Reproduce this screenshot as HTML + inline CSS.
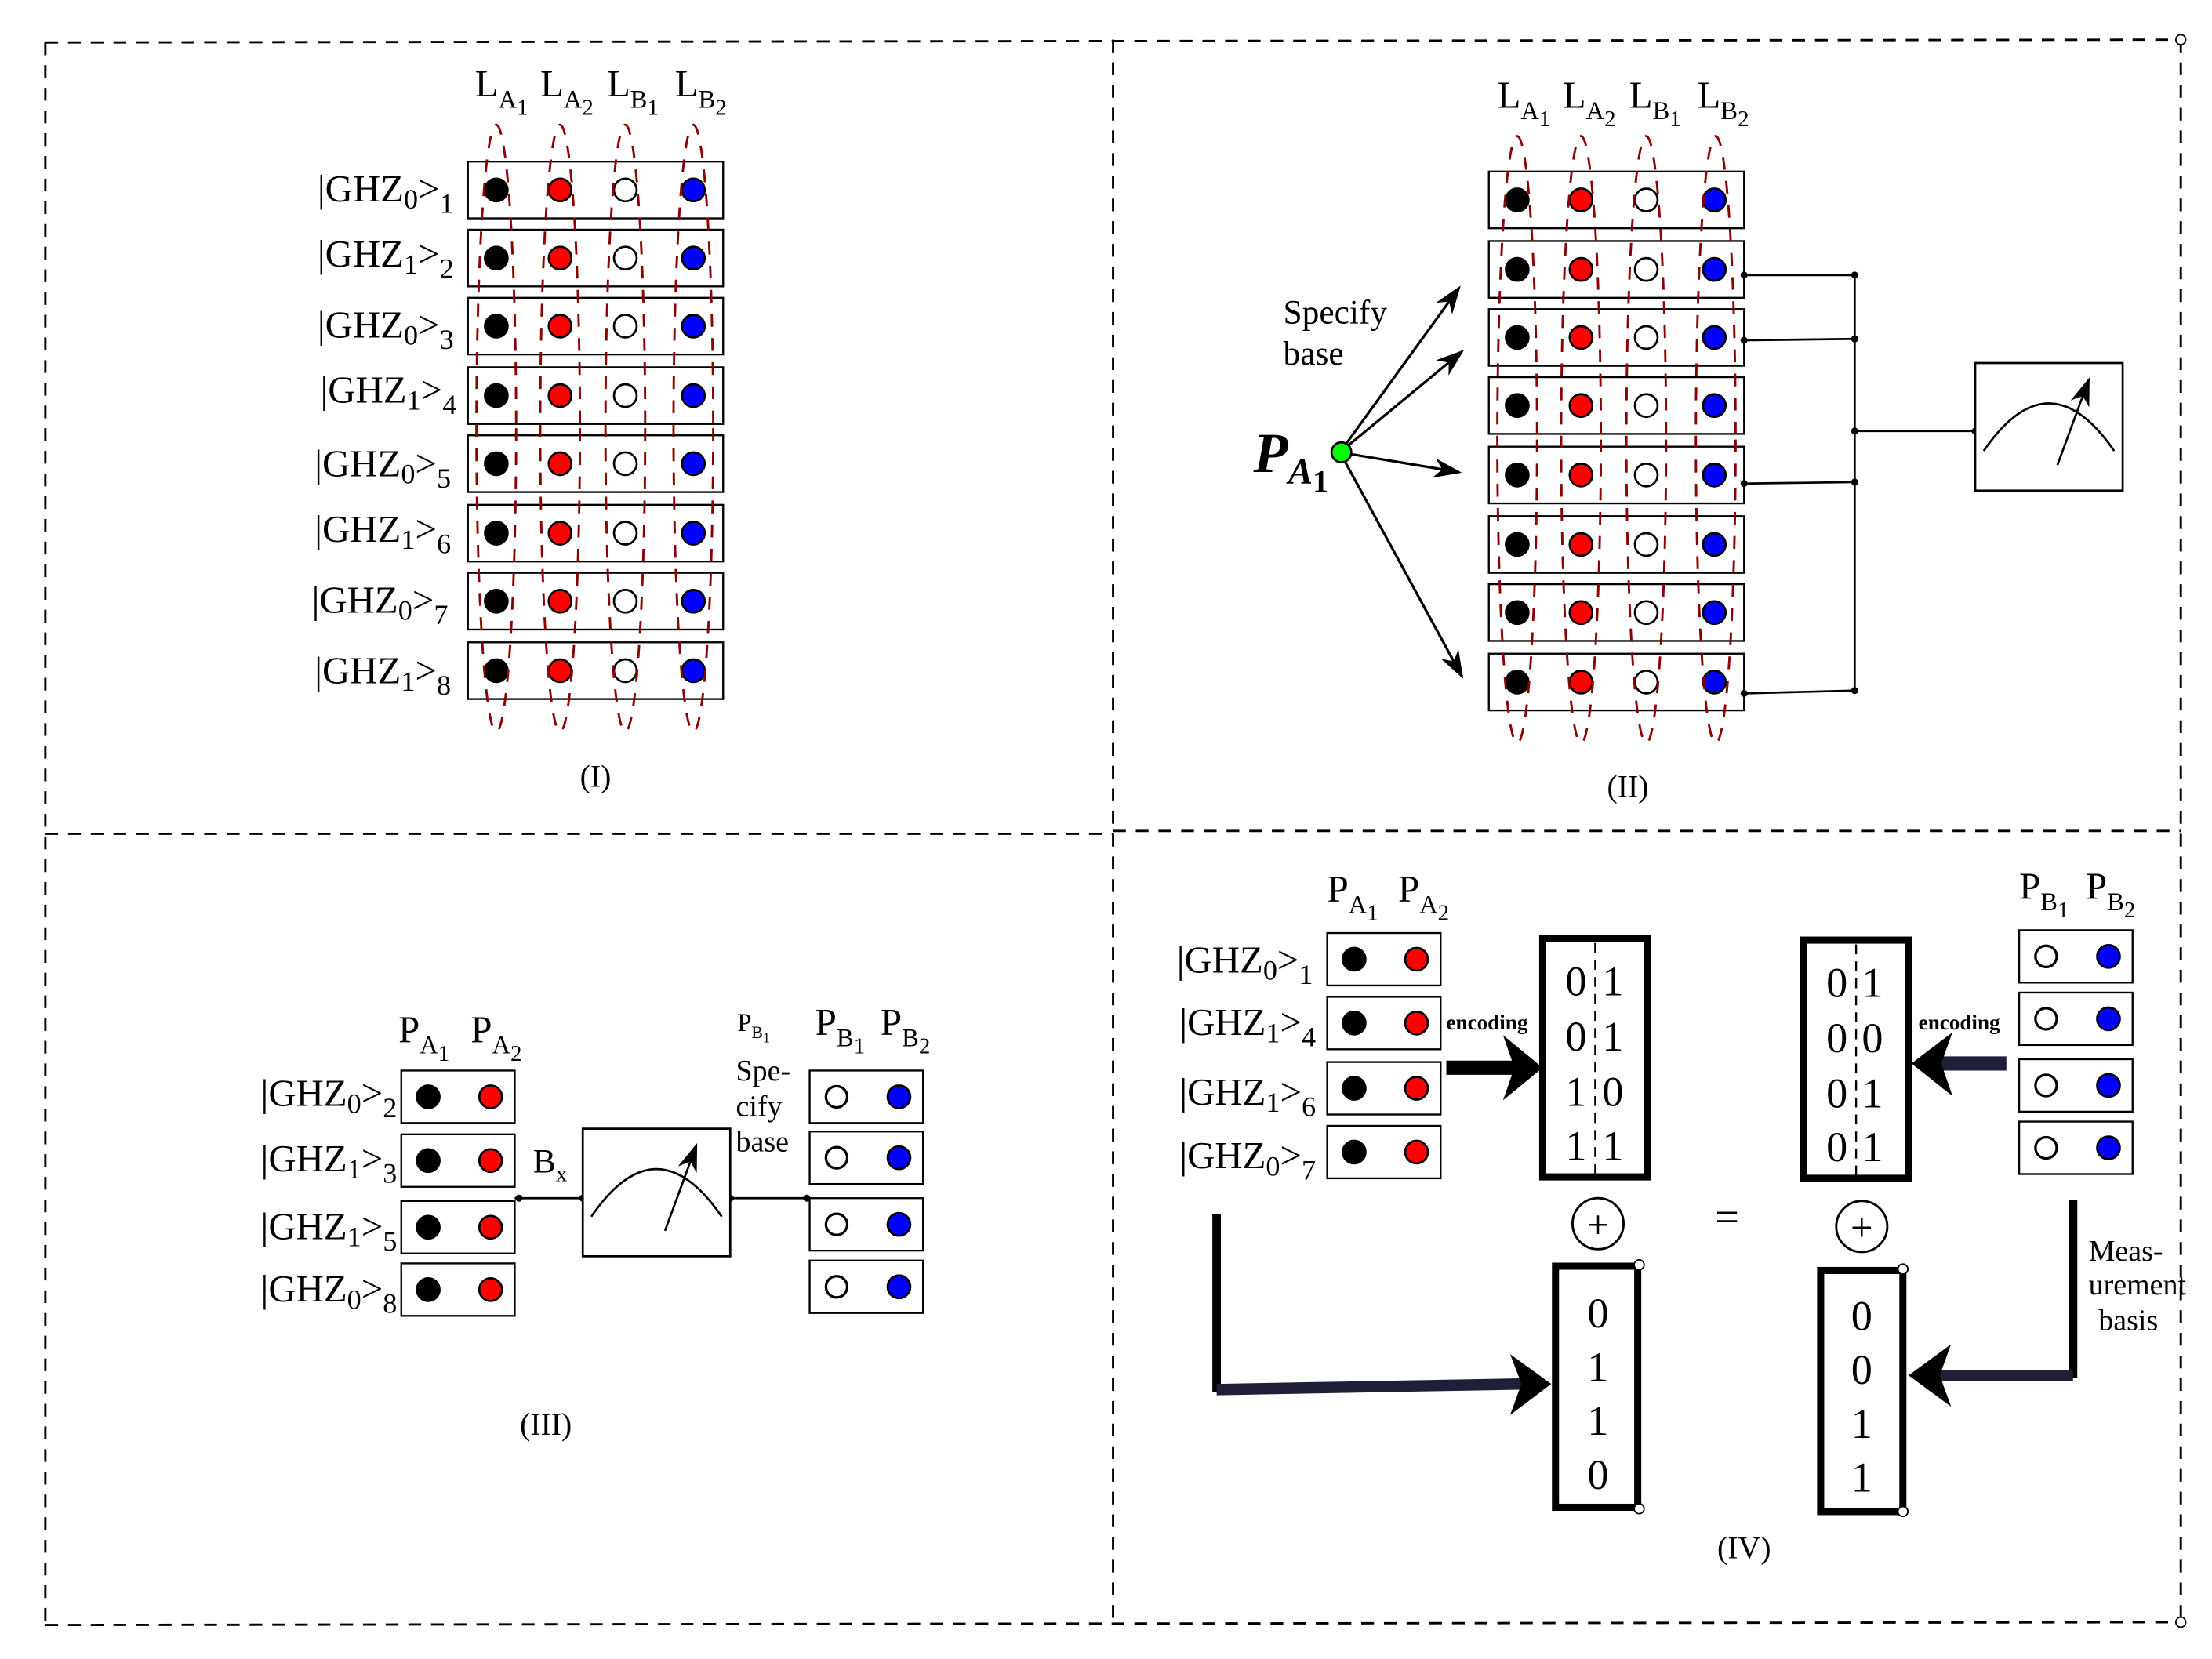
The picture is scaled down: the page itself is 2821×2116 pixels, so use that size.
<!DOCTYPE html>
<html><head><meta charset="utf-8"><style>html,body{margin:0;padding:0;background:#fff}svg{display:block}</style></head>
<body>
<svg width="2821" height="2116" viewBox="0 0 1560 1170" preserveAspectRatio="none" xmlns="http://www.w3.org/2000/svg" font-family="Liberation Serif, serif">
<defs>
<marker id="ah" viewBox="0 0 20 14" refX="18" refY="7" markerWidth="20" markerHeight="14" markerUnits="userSpaceOnUse" orient="auto"><path d="M0,0 L20,7 L0,14 L6,7 Z" fill="#000"/></marker>
<g id="r4"><rect x="0" y="0" width="180" height="40" fill="#fff" stroke="#000" stroke-width="1.3"/>
<circle cx="20" cy="20" r="8" fill="#000" stroke="#000" stroke-width="1.5"/>
<circle cx="65" cy="20" r="8" fill="#f00" stroke="#000" stroke-width="1.5"/>
<circle cx="111" cy="20" r="8" fill="#fff" stroke="#000" stroke-width="1.5"/>
<circle cx="159" cy="20" r="8" fill="#00f" stroke="#000" stroke-width="1.5"/></g>
<g id="ra"><rect x="0" y="0" width="80" height="37" fill="#fff" stroke="#000" stroke-width="1.3"/>
<circle cx="19" cy="18.5" r="8" fill="#000" stroke="#000" stroke-width="1.5"/>
<circle cx="63" cy="18.5" r="8" fill="#f00" stroke="#000" stroke-width="1.5"/></g>
<g id="rb"><rect x="0" y="0" width="80" height="37" fill="#fff" stroke="#000" stroke-width="1.3"/>
<circle cx="19" cy="18.5" r="7.5" fill="#fff" stroke="#000" stroke-width="1.8"/>
<circle cx="63" cy="18.5" r="8" fill="#00f" stroke="#000" stroke-width="1.5"/></g>
<g id="meter"><rect x="0" y="0" width="104" height="90" fill="#fff" stroke="#000" stroke-width="1.5"/>
<path d="M6,62 Q52,-5 98,62" fill="none" stroke="#000" stroke-width="1.5"/>
<line x1="58" y1="72" x2="80" y2="12" stroke="#000" stroke-width="1.5" marker-end="url(#ah)"/></g>
</defs>

<!-- dashed frame -->
<g fill="none" stroke="#000" stroke-width="1.6" stroke-dasharray="9,7">
<line x1="32" y1="30" x2="1538" y2="28"/>
<line x1="32" y1="30" x2="32" y2="1146"/>
<line x1="32" y1="1146" x2="1538" y2="1144"/>
<line x1="1538" y1="28" x2="1538" y2="1144"/>
<line x1="785" y1="28" x2="785" y2="1146"/>
<line x1="32" y1="588" x2="785" y2="588"/>
<line x1="785" y1="586" x2="1538" y2="586"/>
</g>
<circle cx="1538" cy="28" r="3.5" fill="#fff" stroke="#000"/>
<circle cx="1538" cy="1144" r="3.5" fill="#fff" stroke="#000"/>

<!-- Panel I -->
<g font-size="27">
<text x="335" y="68">L<tspan font-size="18" dy="8">A</tspan><tspan font-size="16" dy="5">1</tspan></text>
<text x="381" y="68">L<tspan font-size="18" dy="8">A</tspan><tspan font-size="16" dy="5">2</tspan></text>
<text x="428" y="68">L<tspan font-size="18" dy="8">B</tspan><tspan font-size="16" dy="5">1</tspan></text>
<text x="476" y="68">L<tspan font-size="18" dy="8">B</tspan><tspan font-size="16" dy="5">2</tspan></text>
</g>
<use href="#r4" x="330" y="114"/><use href="#r4" x="330" y="162"/><use href="#r4" x="330" y="210"/><use href="#r4" x="330" y="259"/>
<use href="#r4" x="330" y="307"/><use href="#r4" x="330" y="356"/><use href="#r4" x="330" y="404"/><use href="#r4" x="330" y="453"/>
<g fill="none" stroke="#8b0000" stroke-width="1.6" stroke-dasharray="9,8">
<ellipse cx="350" cy="302" rx="14" ry="214"/><ellipse cx="395" cy="302" rx="14" ry="214"/>
<ellipse cx="441" cy="302" rx="14" ry="214"/><ellipse cx="489" cy="302" rx="14" ry="214"/>
</g>
<g font-size="27" text-anchor="end">
<text x="320" y="142">|GHZ<tspan font-size="20" dy="5">0</tspan><tspan dy="-5">&gt;</tspan><tspan font-size="20" dy="8">1</tspan></text>
<text x="320" y="188">|GHZ<tspan font-size="20" dy="5">1</tspan><tspan dy="-5">&gt;</tspan><tspan font-size="20" dy="8">2</tspan></text>
<text x="320" y="238">|GHZ<tspan font-size="20" dy="5">0</tspan><tspan dy="-5">&gt;</tspan><tspan font-size="20" dy="8">3</tspan></text>
<text x="322" y="284">|GHZ<tspan font-size="20" dy="5">1</tspan><tspan dy="-5">&gt;</tspan><tspan font-size="20" dy="8">4</tspan></text>
<text x="318" y="336">|GHZ<tspan font-size="20" dy="5">0</tspan><tspan dy="-5">&gt;</tspan><tspan font-size="20" dy="8">5</tspan></text>
<text x="318" y="382">|GHZ<tspan font-size="20" dy="5">1</tspan><tspan dy="-5">&gt;</tspan><tspan font-size="20" dy="8">6</tspan></text>
<text x="316" y="432">|GHZ<tspan font-size="20" dy="5">0</tspan><tspan dy="-5">&gt;</tspan><tspan font-size="20" dy="8">7</tspan></text>
<text x="318" y="482">|GHZ<tspan font-size="20" dy="5">1</tspan><tspan dy="-5">&gt;</tspan><tspan font-size="20" dy="8">8</tspan></text>
</g>
<text x="420" y="555" font-size="22" text-anchor="middle">(I)</text>

<!-- Panel II -->
<g font-size="27">
<text x="1056" y="76">L<tspan font-size="18" dy="8">A</tspan><tspan font-size="16" dy="5">1</tspan></text>
<text x="1102" y="76">L<tspan font-size="18" dy="8">A</tspan><tspan font-size="16" dy="5">2</tspan></text>
<text x="1149" y="76">L<tspan font-size="18" dy="8">B</tspan><tspan font-size="16" dy="5">1</tspan></text>
<text x="1197" y="76">L<tspan font-size="18" dy="8">B</tspan><tspan font-size="16" dy="5">2</tspan></text>
</g>
<use href="#r4" x="1050" y="121"/><use href="#r4" x="1050" y="170"/><use href="#r4" x="1050" y="218"/><use href="#r4" x="1050" y="266"/>
<use href="#r4" x="1050" y="315"/><use href="#r4" x="1050" y="364"/><use href="#r4" x="1050" y="412"/><use href="#r4" x="1050" y="461"/>
<g fill="none" stroke="#8b0000" stroke-width="1.6" stroke-dasharray="9,8">
<ellipse cx="1070" cy="310" rx="14" ry="214"/><ellipse cx="1115" cy="310" rx="14" ry="214"/>
<ellipse cx="1161" cy="310" rx="14" ry="214"/><ellipse cx="1210" cy="310" rx="14" ry="214"/>
</g>
<g stroke="#000" stroke-width="1.5" fill="none">
<polyline points="1230,194 1308,194 1308,487 1230,489"/>
<line x1="1230" y1="240" x2="1308" y2="239"/>
<line x1="1230" y1="341" x2="1308" y2="340"/>
<line x1="1308" y1="304" x2="1393" y2="304"/>
</g>
<g fill="#000"><circle cx="1230" cy="194" r="2.5"/><circle cx="1308" cy="194" r="2.5"/><circle cx="1230" cy="240" r="2.5"/><circle cx="1308" cy="239" r="2.5"/><circle cx="1230" cy="341" r="2.5"/><circle cx="1308" cy="340" r="2.5"/><circle cx="1230" cy="489" r="2.5"/><circle cx="1308" cy="487" r="2.5"/><circle cx="1308" cy="304" r="2.5"/><circle cx="1393" cy="304" r="2.5"/></g>
<use href="#meter" x="1393" y="256"/>
<g stroke="#000" stroke-width="1.8" marker-end="url(#ah)">
<line x1="945" y1="319" x2="1029" y2="203"/>
<line x1="945" y1="319" x2="1031" y2="248"/>
<line x1="945" y1="319" x2="1029" y2="333"/>
<line x1="945" y1="319" x2="1031" y2="477"/>
</g>
<circle cx="946" cy="319" r="7" fill="#0f0" stroke="#000" stroke-width="1.5"/>
<text x="905" y="228" font-size="24">Specify</text>
<text x="905" y="257" font-size="24">base</text>
<text x="884" y="333" font-size="40" font-weight="bold" font-style="italic">P<tspan font-size="26" dy="8">A</tspan><tspan font-size="22" dy="6" font-style="normal">1</tspan></text>
<text x="1148" y="562" font-size="22" text-anchor="middle">(II)</text>

<!-- Panel III -->
<g font-size="27">
<text x="281" y="735">P<tspan font-size="18" dy="8">A</tspan><tspan font-size="16" dy="5">1</tspan></text>
<text x="332" y="735">P<tspan font-size="18" dy="8">A</tspan><tspan font-size="16" dy="5">2</tspan></text>
<text x="575" y="730">P<tspan font-size="18" dy="8">B</tspan><tspan font-size="16" dy="5">1</tspan></text>
<text x="621" y="730">P<tspan font-size="18" dy="8">B</tspan><tspan font-size="16" dy="5">2</tspan></text>
</g>
<use href="#ra" x="283" y="755"/><use href="#ra" x="283" y="800"/><use href="#ra" x="283" y="847"/><use href="#ra" x="283" y="891"/>
<use href="#rb" x="571" y="755"/><use href="#rb" x="571" y="798"/><use href="#rb" x="571" y="845"/><use href="#rb" x="571" y="889"/>
<g font-size="27" text-anchor="end">
<text x="280" y="780">|GHZ<tspan font-size="20" dy="5">0</tspan><tspan dy="-5">&gt;</tspan><tspan font-size="20" dy="8">2</tspan></text>
<text x="280" y="826">|GHZ<tspan font-size="20" dy="5">1</tspan><tspan dy="-5">&gt;</tspan><tspan font-size="20" dy="8">3</tspan></text>
<text x="280" y="874">|GHZ<tspan font-size="20" dy="5">1</tspan><tspan dy="-5">&gt;</tspan><tspan font-size="20" dy="8">5</tspan></text>
<text x="280" y="918">|GHZ<tspan font-size="20" dy="5">0</tspan><tspan dy="-5">&gt;</tspan><tspan font-size="20" dy="8">8</tspan></text>
</g>
<g stroke="#000" stroke-width="1.5"><line x1="363" y1="845" x2="411" y2="845"/><line x1="515" y1="845" x2="571" y2="845"/></g>
<g fill="#000"><circle cx="366" cy="845" r="2.5"/><circle cx="411" cy="845" r="2.5"/><circle cx="515" cy="845" r="2.5"/><circle cx="569" cy="845" r="2.5"/></g>
<use href="#meter" x="411" y="796"/>
<text x="376" y="827" font-size="24">B<tspan font-size="16" dy="6">x</tspan></text>
<text x="520" y="727" font-size="18">P<tspan font-size="12" dy="5">B</tspan><tspan font-size="10" dy="3">1</tspan></text>
<text x="519" y="762" font-size="21">Spe-</text>
<text x="519" y="787" font-size="21">cify</text>
<text x="519" y="812" font-size="21">base</text>
<text x="385" y="1012" font-size="22" text-anchor="middle">(III)</text>

<!-- Panel IV -->
<g font-size="27">
<text x="936" y="636">P<tspan font-size="18" dy="8">A</tspan><tspan font-size="16" dy="5">1</tspan></text>
<text x="986" y="636">P<tspan font-size="18" dy="8">A</tspan><tspan font-size="16" dy="5">2</tspan></text>
<text x="1424" y="634">P<tspan font-size="18" dy="8">B</tspan><tspan font-size="16" dy="5">1</tspan></text>
<text x="1471" y="634">P<tspan font-size="18" dy="8">B</tspan><tspan font-size="16" dy="5">2</tspan></text>
</g>
<use href="#ra" x="936" y="658"/><use href="#ra" x="936" y="703"/><use href="#ra" x="936" y="749"/><use href="#ra" x="936" y="794"/>
<use href="#rb" x="1424" y="656"/><use href="#rb" x="1424" y="700"/><use href="#rb" x="1424" y="747"/><use href="#rb" x="1424" y="791"/>
<g font-size="27" text-anchor="end">
<text x="926" y="686">|GHZ<tspan font-size="20" dy="5">0</tspan><tspan dy="-5">&gt;</tspan><tspan font-size="20" dy="8">1</tspan></text>
<text x="928" y="730">|GHZ<tspan font-size="20" dy="5">1</tspan><tspan dy="-5">&gt;</tspan><tspan font-size="20" dy="8">4</tspan></text>
<text x="928" y="779">|GHZ<tspan font-size="20" dy="5">1</tspan><tspan dy="-5">&gt;</tspan><tspan font-size="20" dy="8">6</tspan></text>
<text x="928" y="824">|GHZ<tspan font-size="20" dy="5">0</tspan><tspan dy="-5">&gt;</tspan><tspan font-size="20" dy="8">7</tspan></text>
</g>
<!-- matrices -->
<rect x="1088" y="662" width="74" height="168" fill="#fff" stroke="#000" stroke-width="5"/>
<rect x="1272" y="663" width="74" height="168" fill="#fff" stroke="#000" stroke-width="5"/>
<g stroke="#000" stroke-width="1.3" stroke-dasharray="7,5"><line x1="1125" y1="665" x2="1125" y2="828"/><line x1="1309" y1="666" x2="1309" y2="829"/></g>
<g font-size="30">
<text x="1104" y="702">0</text><text x="1130" y="702">1</text>
<text x="1104" y="741">0</text><text x="1130" y="741">1</text>
<text x="1104" y="780">1</text><text x="1130" y="780">0</text>
<text x="1104" y="818">1</text><text x="1130" y="818">1</text>
<text x="1288" y="703">0</text><text x="1313" y="703">1</text>
<text x="1288" y="742">0</text><text x="1313" y="742">0</text>
<text x="1288" y="781">0</text><text x="1313" y="781">1</text>
<text x="1288" y="819">0</text><text x="1313" y="819">1</text>
</g>
<g font-size="15" font-weight="bold"><text x="1020" y="726">encoding</text><text x="1353" y="726">encoding</text></g>
<!-- thick arrows -->
<line x1="1020" y1="753" x2="1070" y2="753" stroke="#000" stroke-width="10"/>
<path d="M1088,753 L1060,730 L1068,753 L1060,776 Z" fill="#000"/>
<line x1="1415" y1="750" x2="1365" y2="750" stroke="#1f1f3a" stroke-width="10"/>
<path d="M1348,750 L1377,728 L1369,750 L1377,773 Z" fill="#000"/>
<circle cx="1127" cy="863" r="18" fill="#fff" stroke="#000" stroke-width="1.6"/>
<text x="1127" y="873" font-size="28" text-anchor="middle">+</text>
<circle cx="1313" cy="865" r="18" fill="#fff" stroke="#000" stroke-width="1.6"/>
<text x="1313" y="875" font-size="28" text-anchor="middle">+</text>
<text x="1218" y="868" font-size="30" text-anchor="middle">=</text>
<rect x="1097" y="893" width="58" height="170" fill="#fff" stroke="#000" stroke-width="5"/>
<rect x="1284" y="896" width="58" height="170" fill="#fff" stroke="#000" stroke-width="5"/>
<circle cx="1156" cy="892" r="3.5" fill="#fff" stroke="#000"/><circle cx="1156" cy="1064" r="3.5" fill="#fff" stroke="#000"/>
<circle cx="1342" cy="895" r="3.5" fill="#fff" stroke="#000"/><circle cx="1342" cy="1066" r="3.5" fill="#fff" stroke="#000"/>
<g font-size="30" text-anchor="middle">
<text x="1127" y="936">0</text><text x="1127" y="974">1</text><text x="1127" y="1012">1</text><text x="1127" y="1050">0</text>
<text x="1313" y="938">0</text><text x="1313" y="976">0</text><text x="1313" y="1014">1</text><text x="1313" y="1052">1</text>
</g>
<line x1="858" y1="856" x2="858" y2="982" stroke="#000" stroke-width="6"/>
<line x1="858" y1="980" x2="1075" y2="976" stroke="#1f1f3a" stroke-width="8"/>
<path d="M1094,976 L1065,955 L1073,976 L1065,998 Z" fill="#000"/>
<line x1="1462" y1="846" x2="1462" y2="972" stroke="#000" stroke-width="6"/>
<line x1="1462" y1="970" x2="1365" y2="970" stroke="#1f1f3a" stroke-width="8"/>
<path d="M1346,970 L1376,948 L1368,970 L1376,992 Z" fill="#000"/>
<g font-size="21"><text x="1473" y="889">Meas-</text><text x="1473" y="913">urement</text><text x="1480" y="938">basis</text></g>
<text x="1230" y="1099" font-size="22" text-anchor="middle">(IV)</text>
</svg>
</body></html>
